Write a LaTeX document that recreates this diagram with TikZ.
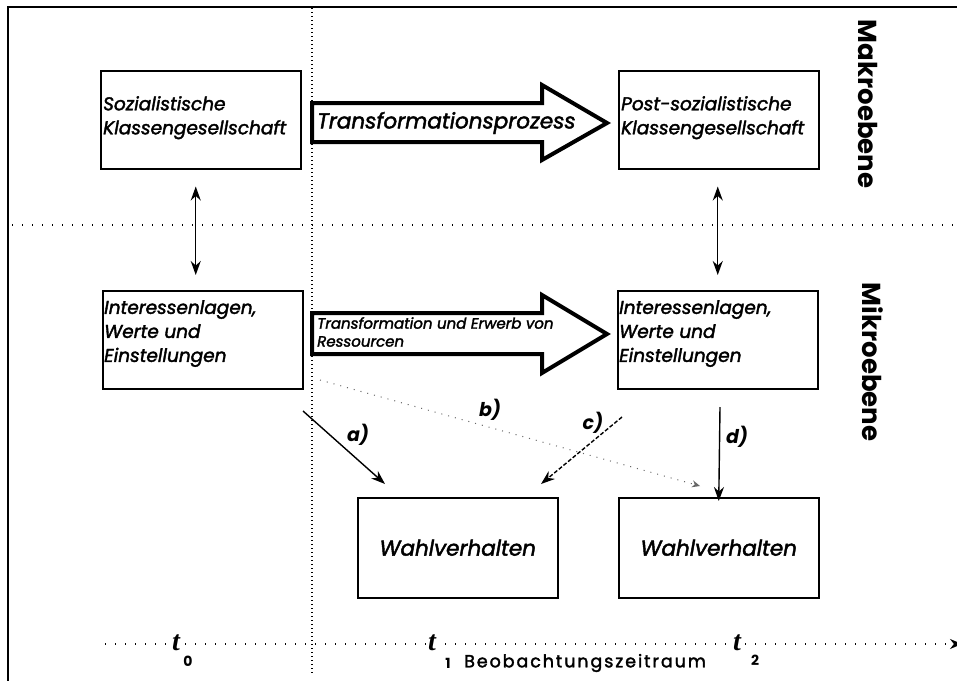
\documentclass[tikz,border=0pt]{standalone}
\usepackage{fontspec}
\setmainfont{Poppins}
\newfontfamily\medfont[FakeBold=2]{Poppins}
\newfontfamily\tfont{Liberation Serif}
\usetikzlibrary{arrows.meta}
\begin{document}
\begin{tikzpicture}[x=1pt,y=-1pt,
  box/.style={draw, line width=1.5pt, minimum width=200pt, minimum height=98pt, inner sep=0pt, anchor=north west},
  boxtext/.style={anchor=north west, align=left, inner sep=0pt, font=\fontsize{18.5}{24}\selectfont\medfont\itshape},
  bigarrow/.style={draw, line width=4pt, line join=miter, fill=white},
  dotline/.style={line width=1.3pt, dash pattern=on 1.3pt off 8.7pt},
  vdot/.style={line width=1.3pt, dash pattern=on 1.3pt off 2.7pt},
  conn/.style={line width=1.4pt, -{Stealth[length=14pt,width=10pt]}},
  biconn/.style={line width=1.4pt, {Stealth[length=14pt,width=10pt]}-{Stealth[length=14pt,width=10pt]}},
  lab/.style={inner sep=0pt, font=\fontsize{19}{19}\selectfont\bfseries\itshape},
  level/.style={inner sep=0pt, rotate=-90, font=\fontsize{26}{26}\selectfont\bfseries},
  tlab/.style={inner sep=0pt, font=\fontsize{28}{28}\selectfont\tfont\bfseries\itshape},
  tsub/.style={inner sep=0pt, font=\fontsize{14}{14}\selectfont\bfseries}]
\useasboundingbox (0,0) rectangle (957,680);
\fill[white] (0,0) rectangle (957,680);
% frame
\draw[line width=1.4pt] (8,700) -- (8,7) -- (970,7);
% separators
\draw[vdot] (312,8) -- (312,673);
\draw[dotline] (12,225) -- (957,225);
% boxes
\node[box] (soz) at (100,70) {};
\node[box] (post) at (618,70) {};
\node[box] (int1) at (102,290) {};
\node[box] (int2) at (617,290) {};
\node[box, minimum height=100pt] (wahl1) at (357,497) {};
\node[box, minimum height=100pt] (wahl2) at (618,497) {};
% box texts
\node[boxtext] (sozt) at (103,96) {Sozialistische\\Klassengesellschaft};
\node[boxtext] (postt) at (621,96) {Post-sozialistische\\Klassengesellschaft};
\node[boxtext] (int1t) at (104,300) {Interessenlagen,\\Werte und\\Einstellungen};
\node[boxtext] (int2t) at (619,300) {Interessenlagen,\\Werte und\\Einstellungen};
\node[inner sep=0pt, font=\fontsize{21.5}{21.5}\selectfont\medfont\itshape] (w1t) at (wahl1.center) {Wahlverhalten};
\node[inner sep=0pt, font=\fontsize{21.5}{21.5}\selectfont\medfont\itshape] (w2t) at (wahl2.center) {Wahlverhalten};
% big arrows
\draw[bigarrow] (312,103) -- (542,103) -- (542,85) -- (607,123) -- (542,160) -- (542,142) -- (312,142) -- cycle;
\node[anchor=west, inner sep=0pt, font=\fontsize{21.5}{21.5}\selectfont\medfont\itshape] (tp) at (317,123) {Transformationsprozess};
\draw[bigarrow] (312,313) -- (542,313) -- (542,295) -- (607,334) -- (542,373) -- (542,354) -- (312,354) -- cycle;
\node[anchor=north west, align=left, inner sep=0pt, font=\fontsize{15}{18}\selectfont\medfont\itshape] (ter) at (317,317) {Transformation und Erwerb von\\Ressourcen};
% level labels
\node[level] (makro) at (868,104) {Makroebene};
\node[level] (mikro) at (873,362) {Mikroebene};
% vertical bidirectional arrows
\draw[biconn] ([xshift=-5pt,yshift=-17pt]soz.south) -- ([xshift=-7pt,yshift=15pt]int1.north);
\draw[biconn] ([xshift=-1pt,yshift=-17pt]post.south) -- ([yshift=15pt]int2.north);
% paths a-d
\coordinate (a0) at (303,411);
\coordinate (a1) at (385,484);
\coordinate (b0) at (320,380);
\coordinate (b1) at (700,486);
\coordinate (c0) at (622,417);
\coordinate (c1) at (541,484);
\coordinate (d0) at (720,407);
\coordinate (d1) at ([yshift=-4pt]wahl2.north);
\draw[conn] (a0) -- (a1);
\draw[line width=1pt, black!60, dash pattern=on 1pt off 6pt, -{Stealth[length=8pt,width=7pt]}] (b0) -- (b1);
\draw[conn, dash pattern=on 4pt off 2pt] (c0) -- (c1);
\draw[conn] (d0) -- (d1);
\node[lab] (la) at (358,435) {a)};
\node[lab] (lb) at (490,410) {b)};
\node[lab] (lc) at (593,423) {c)};
\node[lab] (ld) at (737,437) {d)};
% time axis
\coordinate (ax0) at (105,644);
\coordinate (ax1) at (962,644);
\draw[dotline, -{Stealth[length=12pt,width=10pt]}] (ax0) -- (ax1);
\node[tlab, fill=white, inner xsep=1pt] (t0) at (176,643) {t};
\node[tsub] (t0s) at (188,661) {0};
\node[tlab, fill=white, inner xsep=1pt] (t1) at (432,643) {t};
\node[tsub] (t1s) at (448,663) {1};
\node[tlab, fill=white, inner xsep=1pt] (t2) at (737,643) {t};
\node[tsub] (t2s) at (755,660) {2};
\node[anchor=west, inner sep=0pt, font=\fontsize{17.5}{17.5}\selectfont\medfont\addfontfeatures{LetterSpace=11}] (beo) at (464,663) {Beobachtungszeitraum};
\end{tikzpicture}
\end{document}
